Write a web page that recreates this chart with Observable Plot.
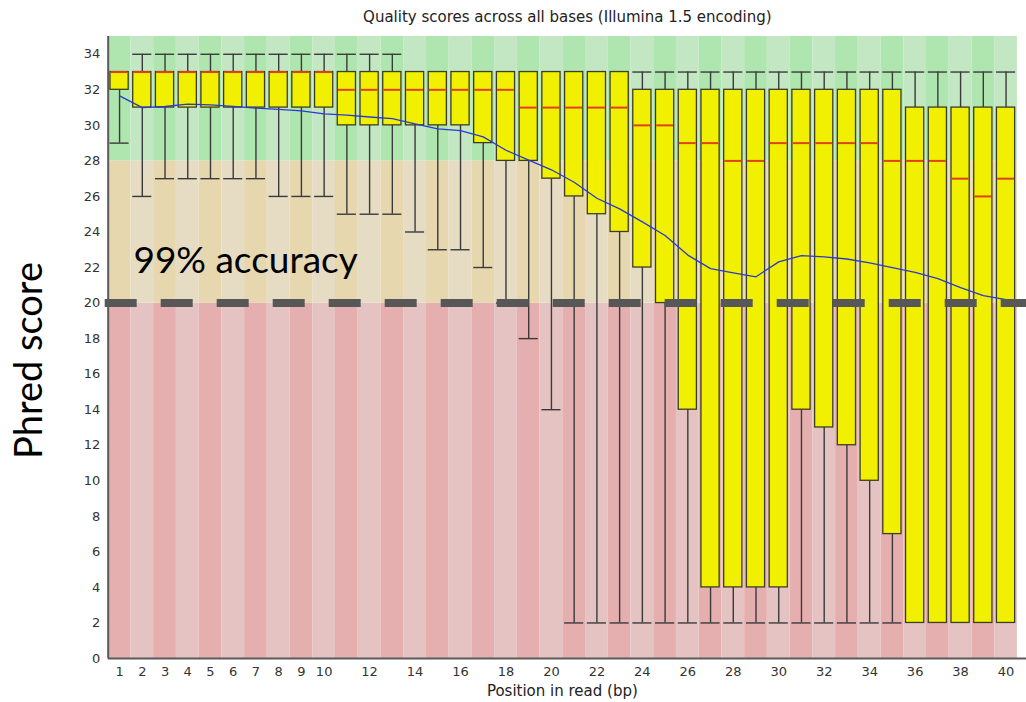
<!DOCTYPE html>
<html>
<head>
<meta charset="utf-8">
<script src="https://cdn.jsdelivr.net/npm/d3@7"></script>
<script src="https://cdn.jsdelivr.net/npm/@observablehq/plot@0.6"></script>
<style>
  html, body { margin: 0; padding: 0; background: #fff; }
  #chart svg { display: block; }
</style>
</head>
<body>
<div id="chart"></div>
<script>
// Per-base quality summary: positions 1..40 of the read
const positions = [1,2,3,4,5,6,7,8,9,10,11,12,13,14,15,16,17,18,19,20,21,22,23,24,25,26,27,28,29,30,31,32,33,34,35,36,37,38,39,40];

// 90th percentile (upper whisker)
const upperWhisker = [33,34,34,34,34,34,34,34,34,34,34,34,34,33,33,33,33,33,33,33,33,33,33,33,33,33,33,33,33,33,33,33,33,33,33,33,33,33,33,33];
// Upper quartile (top of box)
const upperQuartile = [33,33,33,33,33,33,33,33,33,33,33,33,33,33,33,33,33,33,33,33,33,33,33,32,32,32,32,32,32,32,32,32,32,32,32,31,31,31,31,31];
// Median (red line)
const medianScore = [33,33,33,33,33,33,33,33,33,33,32,32,32,32,32,32,32,32,31,31,31,31,31,30,30,29,29,28,28,29,29,29,29,29,28,28,28,27,26,27];
// Lower quartile (bottom of box)
const lowerQuartile = [32,31,31,31,31,31,31,31,31,31,30,30,30,30,30,30,29,28,28,27,26,25,24,22,20,14,4,4,4,4,14,13,12,10,7,2,2,2,2,2];
// 10th percentile (lower whisker)
const lowerWhisker = [29,26,27,27,27,27,27,26,26,26,25,25,25,24,23,23,22,20,18,14,2,2,2,2,2,2,2,2,2,2,2,2,2,2,2,2,2,2,2,2];
// Mean quality (blue line)
const meanScore = [31.66,31.0,31.06,31.2,31.15,31.07,30.97,30.9,30.82,30.65,30.58,30.47,30.38,30.08,29.8,29.7,29.35,28.6,28.04,27.5,26.8,25.9,25.3,24.57,23.8,22.7,21.94,21.7,21.48,22.32,22.67,22.6,22.48,22.26,22.0,21.73,21.37,20.87,20.42,20.2];

// Axis tick labels
const xTicks = [1,2,3,4,5,6,7,8,9,10,12,14,16,18,20,22,24,26,28,30,32,34,36,38,40];
const yTicks = [0,2,4,6,8,10,12,14,16,18,20,22,24,26,28,30,32,34];

// Background quality zones (poor / reasonable / good), each with dark + light stripe colours
const zoneFloor = [0, 20, 28];
const zoneCeil = [20, 28, 35];
const zoneDark = ["rgb(230,175,175)", "rgb(230,215,175)", "rgb(175,230,175)"];
const zoneLight = ["rgb(230,195,195)", "rgb(230,220,195)", "rgb(195,230,195)"];

const threshold = 20;
const annotation = "99% accuracy";

const table = positions.map((pos, i) => ({
  pos,
  hi: upperWhisker[i],
  q3: upperQuartile[i],
  med: medianScore[i],
  q1: lowerQuartile[i],
  lo: lowerWhisker[i],
  mean: meanScore[i]
}));

const stripes = [];
zoneFloor.forEach((f, z) => {
  positions.forEach((pos, i) => {
    stripes.push({pos, y1: f, y2: zoneCeil[z], fill: i % 2 === 0 ? zoneDark[z] : zoneLight[z]});
  });
});

const boxHalf = 0.4;
const capHalf = 0.42;

const chart = Plot.plot({
  width: 1026,
  height: 702,
  marginLeft: 107.7,
  marginRight: 0,
  marginTop: 36,
  marginBottom: 44,
  style: {fontFamily: "DejaVu Sans", fontSize: "13px", color: "#333", background: "#fff"},
  x: {domain: [0.5, 40.9], ticks: xTicks, tickSize: 0, tickPadding: 8, label: null, tickFormat: d => String(d)},
  y: {domain: [0, 35], ticks: yTicks, tickSize: 0, tickPadding: 8, label: null, tickFormat: d => String(d)},
  marks: [
    // striped zone backgrounds
    Plot.rect(stripes, {x1: d => d.pos - 0.5, x2: d => d.pos + 0.5, y1: "y1", y2: "y2", fill: d => d.fill}),
    // whiskers
    Plot.ruleX(table.filter(d => d.lo < d.q1), {x: "pos", y1: "lo", y2: "q1", stroke: "#3a3a3a", strokeWidth: 1.4}),
    Plot.ruleX(table.filter(d => d.hi > d.q3), {x: "pos", y1: "q3", y2: "hi", stroke: "#3a3a3a", strokeWidth: 1.4}),
    Plot.ruleY(table.filter(d => d.lo < d.q1), {y: "lo", x1: d => d.pos - capHalf, x2: d => d.pos + capHalf, stroke: "#3a3a3a", strokeWidth: 1.4}),
    Plot.ruleY(table.filter(d => d.hi > d.q3), {y: "hi", x1: d => d.pos - capHalf, x2: d => d.pos + capHalf, stroke: "#3a3a3a", strokeWidth: 1.4}),
    // interquartile boxes
    Plot.rect(table, {x1: d => d.pos - boxHalf, x2: d => d.pos + boxHalf, y1: "q1", y2: "q3", fill: "#f0f000", stroke: "#3d3d22", strokeWidth: 1.3}),
    // medians
    Plot.ruleY(table, {y: "med", x1: d => d.pos - boxHalf + 0.03, x2: d => d.pos + boxHalf - 0.03, stroke: "#e0401a", strokeWidth: 2}),
    // mean line
    Plot.line(table, {x: "pos", y: "mean", stroke: "#2a3ad0", strokeWidth: 1.3}),
    // Q20 threshold
    Plot.ruleY([threshold], {stroke: "#575757", strokeWidth: 8, strokeDasharray: "32 24", insetLeft: -3}),
    // axis lines
    Plot.ruleX([0.5], {stroke: "#5a5a5a", strokeWidth: 2}),
    Plot.ruleY([0], {stroke: "#5a5a5a", strokeWidth: 2}),
    // titles and labels
    Plot.text(["Quality scores across all bases (Illumina 1.5 encoding)"], {frameAnchor: "top", lineAnchor: "middle", dy: -19, fontSize: 15, fill: "#222"}),
    Plot.text(["Position in read (bp)"], {frameAnchor: "bottom", lineAnchor: "middle", dy: 33, dx: -5, fontSize: 15, fill: "#222"}),
    Plot.text(["Phred score"], {frameAnchor: "left", textAnchor: "middle", lineAnchor: "middle", rotate: -90, dx: -78, dy: 13, fontSize: 38, fontFamily: "Lato", fill: "#000"}),
    Plot.text([annotation], {x: 1.61, y: 22.35, text: d => d, textAnchor: "start", lineAnchor: "middle", fontSize: 37, fontFamily: "Lato", fill: "#000"})
  ]
});

document.getElementById("chart").appendChild(chart);
</script>
</body>
</html>
